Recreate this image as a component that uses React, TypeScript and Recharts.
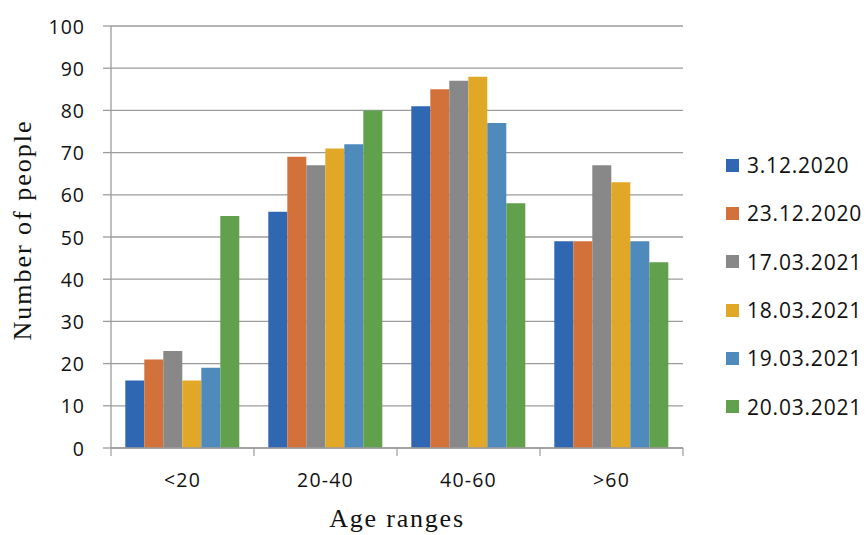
import React from 'react';
import { BarChart, Bar, XAxis, YAxis, CartesianGrid, Label } from 'recharts';

// Age categories on the x axis
const ageRanges = ['<20', '20-40', '40-60', '>60'];

// Survey dates (one series per date)
const seriesNames = ['3.12.2020', '23.12.2020', '17.03.2021', '18.03.2021', '19.03.2021', '20.03.2021'];

// Number of people per age range, one array per date
const values_03_12_2020 = [16, 56, 81, 49];
const values_23_12_2020 = [21, 69, 85, 49];
const values_17_03_2021 = [23, 67, 87, 67];
const values_18_03_2021 = [16, 71, 88, 63];
const values_19_03_2021 = [19, 72, 77, 49];
const values_20_03_2021 = [55, 80, 58, 44];

const yTicks = [0, 10, 20, 30, 40, 50, 60, 70, 80, 90, 100];

const seriesColors = ['#2F67B2', '#D2713A', '#888888', '#E1A828', '#4E8ABC', '#61A04C'];

const seriesValues = [
  values_03_12_2020,
  values_23_12_2020,
  values_17_03_2021,
  values_18_03_2021,
  values_19_03_2021,
  values_20_03_2021,
];

const keys = seriesNames.map((_, i) => `s${i}`);

const data = ageRanges.map((range, ci) => {
  const row: Record<string, string | number> = { range };
  seriesValues.forEach((vals, si) => {
    row[keys[si]] = vals[ci];
  });
  return row;
});

const W = 868;
const H = 535;
const Y_AXIS_W = 111;
const X_AXIS_H = 87;
const MARGIN = { top: 26, right: 185, bottom: 0, left: 0 };
const PLOT_BOTTOM = H - MARGIN.bottom - X_AXIS_H;
const PLOT_W = W - MARGIN.right - Y_AXIS_W;

const AXIS_COLOR = '#9c9c9c';
const TEXT_COLOR = '#111111';
const SANS = '"Open Sans", "Noto Sans", sans-serif';
const SERIF = '"Liberation Serif", "DejaVu Serif", serif';

// Category label plus tick marks at the band boundaries
const CategoryTick = (props: any) => {
  const { x, payload } = props;
  const half = payload && typeof payload.offset === 'number' && payload.offset > 0
    ? payload.offset
    : PLOT_W / ageRanges.length / 2;
  const idx = payload?.index ?? props.index ?? 0;
  const isLast = idx === ageRanges.length - 1;
  return (
    <g>
      <line x1={x - half} x2={x - half} y1={PLOT_BOTTOM} y2={PLOT_BOTTOM + 8} stroke={AXIS_COLOR} strokeWidth={1.2} />
      {isLast && (
        <line x1={x + half} x2={x + half} y1={PLOT_BOTTOM} y2={PLOT_BOTTOM + 8} stroke={AXIS_COLOR} strokeWidth={1.2} />
      )}
      <text
        x={x}
        y={PLOT_BOTTOM + 31}
        textAnchor="middle"
        dominantBaseline="central"
        fontFamily={SANS}
        fontSize={19.5}
        letterSpacing={1.2}
        fill={TEXT_COLOR}
      >
        {payload.value}
      </text>
    </g>
  );
};

const ValueTick = (props: any) => {
  const { x, y, payload } = props;
  return (
    <text
      x={x + 1}
      y={y}
      textAnchor="end"
      dominantBaseline="central"
      fontFamily={SANS}
      fontSize={19.5}
      letterSpacing={1}
      fill={TEXT_COLOR}
    >
      {payload.value}
    </text>
  );
};

const LegendBox = () => (
  <div
    style={{
      position: 'absolute',
      left: 726,
      top: 141,
      fontFamily: SANS,
      fontSize: 21,
      letterSpacing: 0.8,
      color: TEXT_COLOR,
    }}
  >
    {seriesNames.map((name, i) => (
      <div key={name} style={{ display: 'flex', alignItems: 'center', height: 48.3 }}>
        <div style={{ width: 13, height: 13, background: seriesColors[i], marginRight: 8 }} />
        <span style={{ lineHeight: '22px' }}>{name}</span>
      </div>
    ))}
  </div>
);

export default function App() {
  return (
    <div style={{ position: 'absolute', left: 0, top: 0, width: W, height: H, background: '#ffffff' }}>
      <BarChart
        width={W}
        height={H}
        data={data}
        margin={MARGIN}
        barCategoryGap="10%"
        barGap={0}
      >
        <CartesianGrid horizontal vertical={false} stroke={AXIS_COLOR} strokeWidth={1.3} />
        <XAxis
          dataKey="range"
          height={X_AXIS_H}
          axisLine={{ stroke: AXIS_COLOR, strokeWidth: 1.3 }}
          tickLine={false}
          tick={<CategoryTick />}
          interval={0}
        >
          <Label
            content={(p: any) => {
              const vb = p.viewBox || { x: Y_AXIS_W, width: PLOT_W };
              return (
                <text
                  x={vb.x + vb.width / 2}
                  y={527}
                  textAnchor="middle"
                  fontFamily={SERIF}
                  fontSize={26}
                  letterSpacing={1.8}
                  fill={TEXT_COLOR}
                >
                  Age ranges
                </text>
              );
            }}
          />
        </XAxis>
        <YAxis
          width={Y_AXIS_W}
          domain={[0, 100]}
          ticks={yTicks}
          interval={0}
          axisLine={{ stroke: AXIS_COLOR, strokeWidth: 1.3 }}
          tickLine={{ stroke: AXIS_COLOR, strokeWidth: 1.3 }}
          tickSize={8}
          tickMargin={19}
          tick={<ValueTick />}
        >
          <Label
            content={(p: any) => {
              const vb = p.viewBox || { x: 0, y: MARGIN.top, height: PLOT_BOTTOM - MARGIN.top };
              const cx = vb.x + 22;
              const cy = vb.y + vb.height / 2 - 7;
              return (
                <text
                  x={cx}
                  y={cy}
                  transform={`rotate(-90 ${cx} ${cy})`}
                  textAnchor="middle"
                  dominantBaseline="central"
                  fontFamily={SERIF}
                  fontSize={26}
                  letterSpacing={2}
                  fill={TEXT_COLOR}
                >
                  Number of people
                </text>
              );
            }}
          />
        </YAxis>
        {keys.map((k, i) => (
          <Bar key={k} dataKey={k} name={seriesNames[i]} fill={seriesColors[i]} isAnimationActive={false} />
        ))}
      </BarChart>
      <LegendBox />
    </div>
  );
}
